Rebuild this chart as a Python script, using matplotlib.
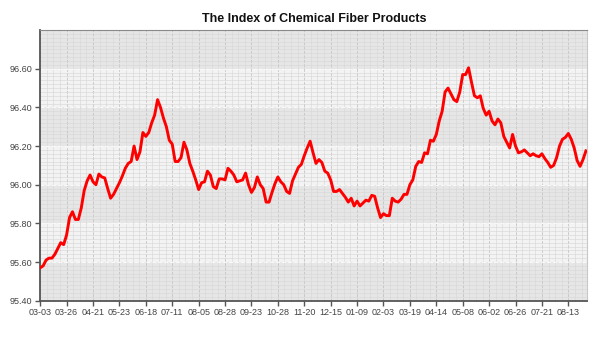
import numpy as np
import matplotlib.pyplot as plt
from matplotlib.ticker import MultipleLocator

# daily index values
values = [
    95.57, 95.58, 95.61, 95.62, 95.62, 95.64, 95.67, 95.70, 95.69, 95.74,
    95.83, 95.86, 95.82, 95.82, 95.88, 95.97, 96.02, 96.05, 96.015, 96.00,
    96.055, 96.04, 96.035, 95.98, 95.93, 95.95, 95.98, 96.01, 96.045, 96.085,
    96.11, 96.12, 96.20, 96.13, 96.17, 96.27, 96.25, 96.27, 96.32, 96.36,
    96.44, 96.40, 96.345, 96.30, 96.23, 96.21, 96.12, 96.12, 96.14, 96.22,
    96.18, 96.11, 96.07, 96.025, 95.975, 96.01, 96.015, 96.07, 96.05, 95.99,
    95.98, 96.03, 96.03, 96.025, 96.085, 96.07, 96.05, 96.015, 96.02, 96.025,
    96.06, 96.00, 95.96, 95.985, 96.04, 96.00, 95.98, 95.91, 95.91, 95.96,
    96.005, 96.04, 96.015, 96.00, 95.965, 95.955, 96.02, 96.055, 96.09, 96.105,
    96.15, 96.19, 96.225, 96.165, 96.11, 96.13, 96.115, 96.07, 96.06, 96.025,
    95.965, 95.965, 95.975, 95.955, 95.935, 95.91, 95.93, 95.89, 95.915, 95.89,
    95.905, 95.92, 95.915, 95.945, 95.94, 95.88, 95.83, 95.85, 95.84, 95.84,
    95.93, 95.915, 95.91, 95.925, 95.95, 95.95, 96.00, 96.025, 96.095, 96.12,
    96.115, 96.165, 96.16, 96.23, 96.225, 96.26, 96.33, 96.38, 96.48, 96.50,
    96.47, 96.44, 96.43, 96.48, 96.57, 96.57, 96.605, 96.53, 96.46, 96.45,
    96.46, 96.395, 96.36, 96.38, 96.33, 96.31, 96.34, 96.32, 96.25, 96.22,
    96.19, 96.26, 96.20, 96.165, 96.17, 96.18, 96.165, 96.15, 96.16, 96.15,
    96.145, 96.16, 96.135, 96.115, 96.09, 96.10, 96.14, 96.20, 96.235, 96.245,
    96.265, 96.235, 96.19, 96.125, 96.095, 96.13, 96.175,
]

tick_labels = ['03-03', '03-26', '04-21', '05-23', '06-18', '07-11', '08-05',
               '08-28', '09-23', '10-28', '11-20', '12-15', '01-09', '02-03',
               '03-19', '04-14', '05-08', '06-02', '06-26', '07-21', '08-13']
tick_step = 9
y_ticks = [95.4, 95.6, 95.8, 96.0, 96.2, 96.4, 96.6]

plt.rcParams['font.family'] = ['Liberation Sans', 'DejaVu Sans']

fig = plt.figure(figsize=(6, 3.5), dpi=100)
ax = fig.add_axes([0.067, 0.141, 0.912, 0.773])

x = np.arange(len(values))
ax.set_xlim(0, 186.5)
ax.set_ylim(95.4, 96.8)

# alternating bands
ax.set_facecolor('#f3f3f3')
for i, lo in enumerate(np.arange(95.4, 96.8, 0.2)):
    if i % 2 == 0:
        ax.axhspan(lo, lo + 0.2, color='#e6e6e6', zorder=0, lw=0)

ax.xaxis.set_minor_locator(MultipleLocator(tick_step / 4))
ax.yaxis.set_minor_locator(MultipleLocator(0.02))
ax.grid(which='minor', color='#d6d6d6', lw=0.4, zorder=1)
ax.grid(which='major', axis='x', color='#c4c4c4', lw=0.6, ls='--', zorder=1)
ax.grid(which='major', axis='y', color='#f8f8f8', lw=0.8, ls='--', zorder=1)

ax.plot(x, values, color='#ff0000', lw=2.1, zorder=3, solid_joinstyle='round')

ax.set_xticks(np.arange(0, len(tick_labels) * tick_step, tick_step))
ax.set_xticklabels(tick_labels)
ax.set_yticks(y_ticks)
ax.set_yticklabels([f'{v:.2f}' for v in y_ticks])
ax.tick_params(which='major', length=3.5, width=1, color='#555555',
               labelsize=6.5, labelcolor='#444444', pad=2)
ax.tick_params(which='minor', length=0)

for side in ['left', 'bottom']:
    ax.spines[side].set_color('#555555')
    ax.spines[side].set_linewidth(1.3)
ax.spines['top'].set_color('#8a8a8a')
ax.spines['right'].set_color('#c8c8c8')

ax.set_title('The Index of Chemical Fiber Products', fontsize=9,
             fontweight='bold', color='#111111', pad=6)

plt.savefig('out.png', dpi=100)
